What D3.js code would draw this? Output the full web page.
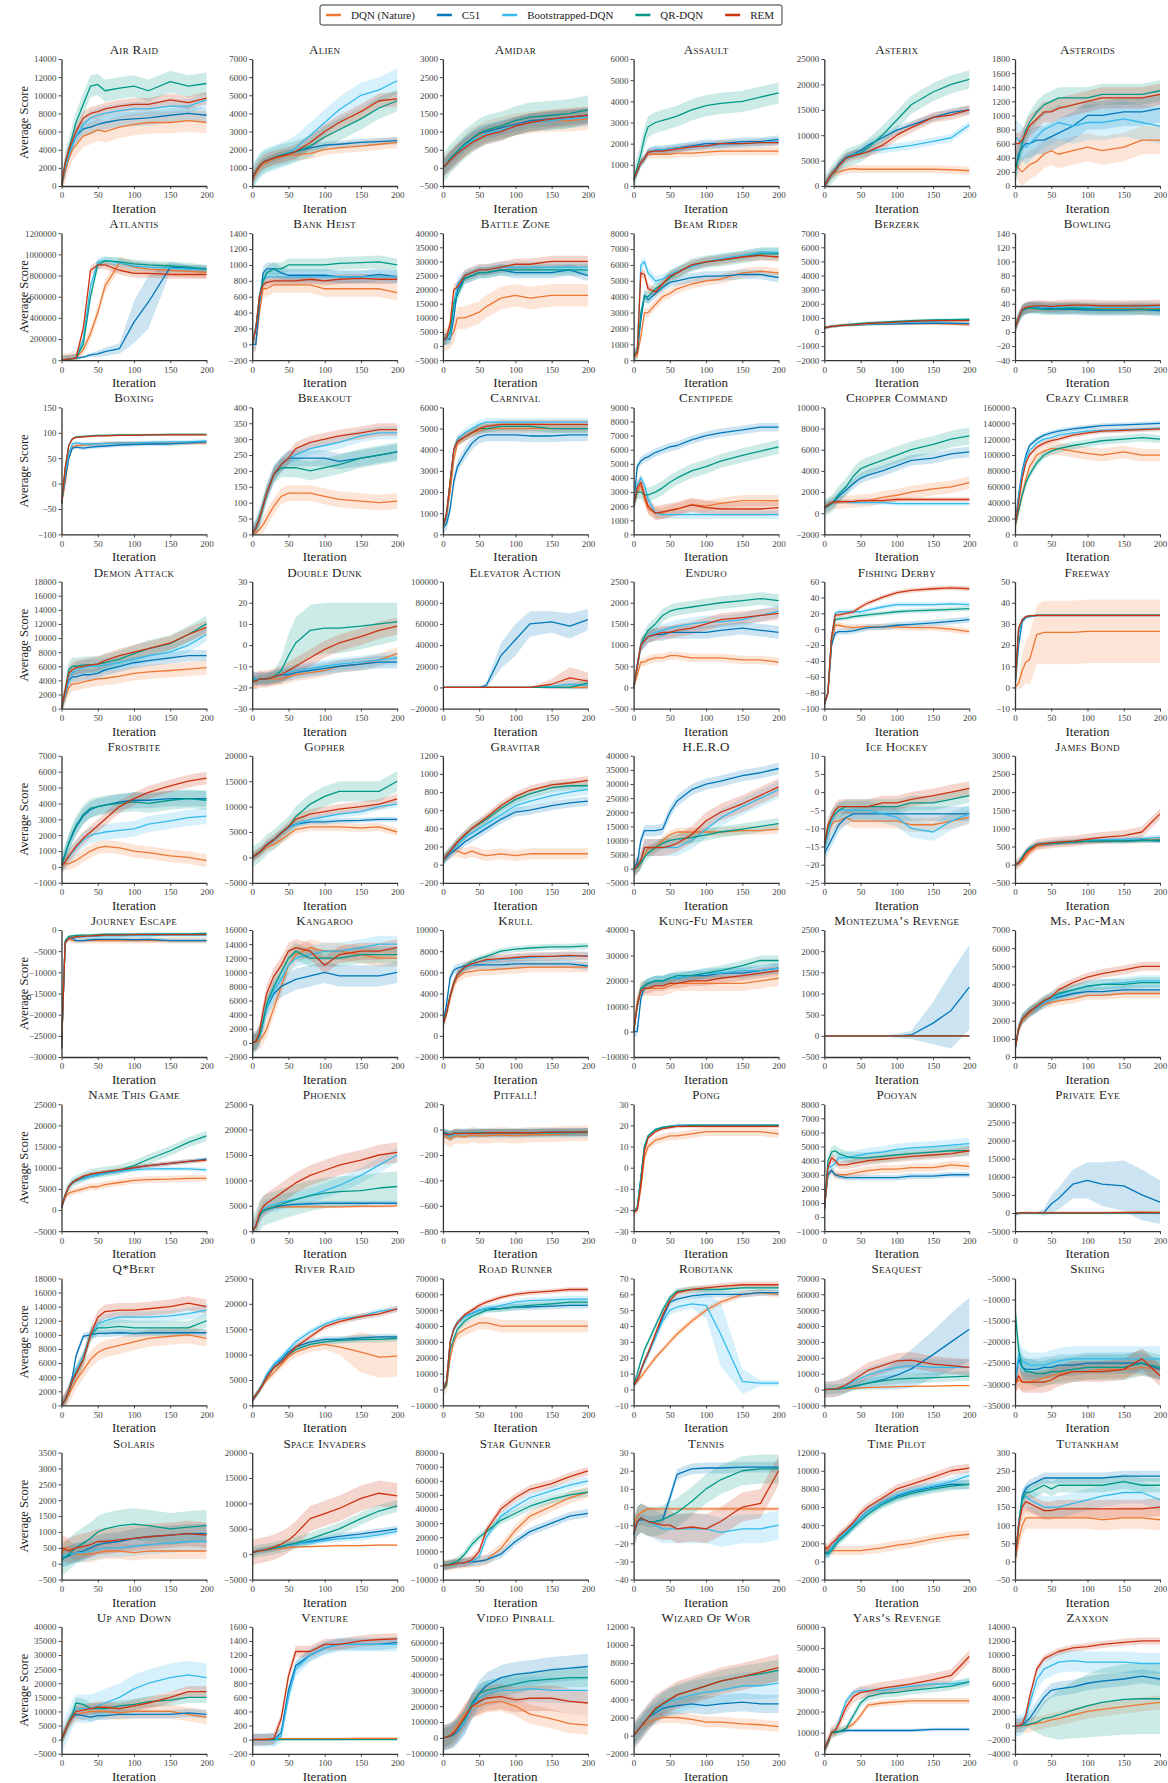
<!DOCTYPE html>
<html><head><meta charset="utf-8">
<script src="https://cdn.jsdelivr.net/npm/d3@7"></script>
<style>
body{margin:0;background:#fff;}
svg text{font-family:"Liberation Serif","DejaVu Serif",serif;}
</style></head><body>
<svg id="chart" width="1168" height="1783"></svg>
<script>
const iterations=[0,5,10,15,20,30,40,50,60,80,100,120,150,175,200];
const xTicks=[0,50,100,150,200];
const seriesNames=["DQN (Nature)","C51","Bootstrapped-DQN","QR-DQN","REM"];
const seriesColors=["#EE7733","#0077BB","#33BBEE","#009988","#CC3311"];
const games=["Air Raid","Alien","Amidar","Assault","Asterix","Asteroids","Atlantis","Bank Heist","Battle Zone","Beam Rider","Berzerk","Bowling","Boxing","Breakout","Carnival","Centipede","Chopper Command","Crazy Climber","Demon Attack","Double Dunk","Elevator Action","Enduro","Fishing Derby","Freeway","Frostbite","Gopher","Gravitar","H.E.R.O","Ice Hockey","James Bond","Journey Escape","Kangaroo","Krull","Kung-Fu Master","Montezuma\u2019s Revenge","Ms. Pac-Man","Name This Game","Phoenix","Pitfall!","Pong","Pooyan","Private Eye","Q*Bert","River Raid","Road Runner","Robotank","Seaquest","Skiing","Solaris","Space Invaders","Star Gunner","Tennis","Time Pilot","Tutankham","Up and Down","Venture","Video Pinball","Wizard Of Wor","Yars\u2019s Revenge","Zaxxon"];
const yDomains=[[0,14000],[0,7000],[-500,3000],[0,6000],[0,25000],[0,1800],
[0,1200000],[-200,1400],[-5000,40000],[0,8000],[-2000,7000],[-40,140],
[-100,150],[0,400],[0,6000],[0,9000],[-2000,10000],[0,160000],
[0,18000],[-30,30],[-20000,100000],[-500,2500],[-100,60],[-10,50],
[-1000,7000],[-5000,20000],[-200,1200],[-5000,40000],[-25,10],[-500,3000],
[-30000,0],[-2000,16000],[-2000,10000],[-10000,40000],[-500,2500],[0,7000],
[-5000,25000],[0,25000],[-800,200],[-30,30],[-1000,8000],[-5000,30000],
[0,18000],[0,25000],[-10000,70000],[-10,70],[-10000,70000],[-35000,-5000],
[-500,3500],[-5000,20000],[-10000,80000],[-40,30],[-2000,12000],[-50,300],
[-5000,40000],[-200,1600],[-100000,700000],[-2000,12000],[0,60000],[-4000,14000]];
const yStep=[2000,1000,500,1000,5000,200,
200000,200,5000,1000,1000,20,
50,50,1000,1000,2000,20000,
2000,10,20000,500,20,10,
1000,5000,200,5000,5,500,
5000,2000,2000,10000,500,1000,
5000,5000,200,10,1000,5000,
2000,5000,10000,10,10000,5000,
500,5000,10000,10,2000,50,
5000,200,100000,2000,10000,2000];
const Z=[0,0,0,0,0,0,0,0,0,0,0,0,0,0,0];
const dqn=[
[0,1500,3000,4000,4500,5500,5800,6200,6000,6500,6800,7000,7000,7200,7000],
[300,700,1000,1200,1300,1500,1600,1700,1700,1800,2000,2100,2200,2300,2400],
[0,100,200,300,400,600,800,900,1000,1100,1200,1250,1300,1300,1350],
[300,700,1100,1300,1500,1500,1500,1500,1550,1550,1600,1650,1650,1650,1650],
[0,1200,2300,2700,2800,3200,3400,3300,3300,3300,3300,3300,3300,3200,3000],
[400,250,200,250,300,350,450,500,450,500,550,500,550,650,650],
[0,5000,10000,15000,20000,100000,250000,450000,700000,920000,880000,860000,850000,840000,830000],
[0,0,400,700,700,750,750,750,750,750,700,700,700,700,650],
[2000,2500,3000,5000,10000,10000,11000,12000,14000,17000,18000,17000,18000,18000,18000],
[200,300,1500,3000,3000,3500,4000,4200,4500,4800,5000,5100,5500,5600,5500],
[300,350,400,420,450,480,500,520,540,560,580,600,600,550,500],
[5,20,30,33,35,35,35,35,34,34,33,33,34,33,33],
[-40,0,50,72,75,76,77,78,79,80,80,80,80,80,80],
[0,5,15,30,50,90,120,130,130,130,120,110,105,100,105],
[300,800,2000,3500,4300,4600,4800,4900,5000,5000,5000,5000,5000,5000,5000],
[2000,3000,3500,2500,1800,1500,1500,1700,1800,2100,2000,2200,2400,2400,2400],
[500,700,900,1000,1000,1100,1100,1200,1200,1500,1700,2000,2300,2500,2900],
[10000,30000,50000,70000,85000,100000,105000,108000,108000,105000,102000,100000,104000,100000,100000],
[0,1500,3000,3500,3500,3800,4000,4200,4300,4600,5000,5200,5400,5600,5800],
[-17,-17,-16,-16,-16,-16,-16,-15,-14,-13,-12,-10,-9,-7,-4],
Z,
[0,300,600,600,650,700,700,750,750,700,700,700,650,650,600],
[-95,-80,-20,5,5,3,2,3,3,3,3,2,2,0,-3],
[0,2,8,12,13,25,26,26,26,26,26.5,26.5,26.5,26.5,26.5],
[100,200,200,300,400,700,1000,1200,1300,1200,1000,900,700,600,400],
[0,500,1000,1500,2000,2500,3500,4500,5500,6000,6000,6000,5800,6000,5000],
[50,100,120,150,150,120,150,120,100,120,100,120,120,120,120],
[0,500,2000,5000,7000,7500,10000,12000,13000,13000,13000,13000,13500,13500,14000],
[-15,-12,-9,-8,-8,-7,-8,-8,-8,-8,-8,-9,-9,-8,-7],
[0,20,100,200,350,500,550,580,600,620,650,650,650,680,700],
[-28000,-3000,-2000,-2500,-2500,-2500,-2500,-2500,-2500,-2500,-2500,-2500,-2500,-2500,-2500],
[0,100,300,1000,2000,5000,8000,11000,12500,13500,13000,13000,12500,12000,12000],
[1000,2000,3500,4800,5500,6000,6100,6200,6200,6300,6400,6500,6500,6500,6500],
[0,12000,17000,17000,17000,17000,17000,18000,19000,19000,19000,19000,19000,20000,21000],
Z,
[400,1500,2000,2200,2400,2700,2900,3000,3100,3200,3400,3400,3500,3500,3500],
[500,3000,4000,4300,4500,5000,5500,5500,6000,6500,7000,7200,7300,7500,7500],
[0,1000,3000,4000,4500,4700,4800,4800,4800,4800,4800,4800,4900,4900,5000],
[-50,-60,-80,-60,-50,-60,-40,-50,-50,-40,-50,-40,-40,-30,-30],
[-21,-20,-10,5,10,13,14,15,15,16,17,17,17,17,16],
[500,3000,3300,3000,3000,3000,3100,3200,3300,3400,3400,3500,3500,3700,3600],
[0,0,100,100,100,100,100,100,100,100,100,100,150,200,200],
[0,700,1500,2500,3500,5000,6500,7500,8000,8500,9000,9500,9800,10000,9500],
[1000,2000,3000,4000,5000,6500,8000,9500,10500,11500,12000,11500,10500,9500,9700],
[0,2000,20000,30000,35000,38000,40000,42000,42000,40000,40000,40000,40000,40000,40000],
[3,5,8,11,14,20,25,30,35,43,50,55,60,61,60],
[0,100,200,300,400,600,800,1000,1200,1500,1800,2000,2200,2400,2500],
[-30000,-29000,-29500,-29500,-29500,-29000,-28500,-28000,-27500,-27000,-27000,-26500,-26500,-26000,-26500],
[300,500,500,400,300,300,300,350,400,400,350,400,400,400,400],
[300,500,600,700,800,1000,1200,1300,1400,1500,1600,1700,1700,1800,1800],
[0,200,500,1000,1500,2000,2500,3000,4000,12000,25000,35000,42000,48000,52000],
[-10,-5,-3,-2,-1,-1,-1,-1,-1,-1,-1,-1,-1,-1,-1],
[1500,1300,1200,1200,1200,1200,1200,1200,1300,1500,1800,2000,2500,2800,3000],
[0,60,100,120,120,120,120,120,120,120,120,115,120,120,115],
[0,3000,6000,8000,9000,9500,10000,10000,10000,9500,10000,10000,10000,9000,8000],
[0,5,10,10,10,15,15,15,15,15,15,15,20,20,20],
[0,5000,20000,50000,80000,150000,200000,200000,220000,230000,200000,150000,120000,90000,80000],
[0,500,1000,1200,1500,1800,2000,2000,2000,1800,1500,1500,1300,1200,1000],
[2000,5000,10000,10000,10500,12000,14000,18000,23000,24000,24500,25000,25000,25000,25000],
[0,0,0,0,100,300,500,800,1000,1500,2000,2300,2700,3000,3300]];
const c51=[
[0,2000,3500,4500,5500,6300,6500,6800,7000,7300,7400,7500,7800,8000,7800],
[400,800,1100,1300,1400,1550,1700,1800,1900,2100,2250,2300,2400,2450,2500],
[0,100,250,350,450,650,800,950,1000,1100,1200,1300,1350,1400,1450],
[300,700,1100,1300,1600,1700,1700,1750,1800,1900,2000,2000,2100,2100,2200],
[0,1200,2300,3200,4300,5700,6300,7000,8000,9500,11000,12000,13500,14500,15000],
[200,450,550,600,600,650,650,700,750,850,1000,1000,1050,1050,1100],
[0,5000,10000,15000,20000,30000,50000,60000,80000,110000,360000,550000,880000,870000,860000],
[0,0,500,900,950,950,900,870,870,870,870,850,850,880,850],
[2000,2500,2500,10000,20000,24000,25000,26000,26000,27000,26000,26000,26000,27000,25000],
[300,500,2500,4100,3800,4200,4600,4900,5000,5200,5300,5300,5400,5400,5200],
[300,350,400,420,450,480,500,520,540,560,580,600,620,620,600],
[5,20,30,33,35,35,34,33,32,32,31,31,31,32,30],
[-40,10,50,70,72,70,72,73,74,76,77,78,78,80,82],
[0,20,50,90,130,190,220,240,240,240,240,230,240,250,260],
[300,500,1200,2500,3200,3800,4300,4600,4700,4700,4700,4650,4650,4700,4700],
[2000,4800,5200,5400,5500,5800,6000,6200,6300,6700,7000,7200,7400,7600,7600],
[500,700,900,1200,1600,2200,2800,3300,3600,4000,4500,5000,5200,5600,5800],
[10000,50000,80000,100000,112000,120000,125000,128000,130000,133000,135000,137000,138000,139000,140000],
[0,2000,4000,4500,4500,4800,4800,5000,5500,6000,6500,6800,7200,7500,7500],
[-15,-16,-16,-16,-16,-15,-14,-14,-13,-12,-11,-10,-9,-8,-8],
[0,0,0,0,0,0,0,0,2000,30000,45000,60000,62000,58000,64000],
[0,500,1000,1100,1200,1250,1250,1300,1300,1300,1300,1350,1400,1350,1300],
[-95,-80,-20,-5,-3,-3,-2,0,2,3,5,6,8,10,12],
[0,20,31,33,33.5,34,34,34,34,34,34,34,34,34,34],
[100,800,1500,2000,2500,3200,3600,3800,3900,4100,4200,4200,4300,4300,4300],
[0,500,1000,1700,2500,3500,4800,6000,6500,7000,7000,7200,7300,7500,7500],
[50,80,120,150,180,250,300,350,400,500,580,600,650,680,700],
[0,2000,10000,13500,13500,13500,14000,20000,24000,28000,30000,31000,33000,34000,35500],
[-17,-15,-13,-11,-9,-7,-6,-6,-6,-6,-6,-6,-6,-6,-6],
[0,50,200,350,450,550,570,580,600,620,650,650,650,680,650],
[-28000,-3000,-2000,-2000,-2500,-2500,-2300,-2200,-2200,-2200,-2300,-2200,-2500,-2500,-2500],
[0,200,1000,3000,5000,7000,8000,8500,9000,9500,10000,9500,9500,9500,10000],
[1000,3000,5500,6200,6400,6600,6700,6700,6700,6700,6800,6800,6800,6800,6600],
[0,0,13000,18000,19000,20000,20000,21000,21000,22000,22000,23000,23000,24000,25000],
[0,0,0,0,0,0,0,0,0,0,0,20,300,600,1150],
[400,1600,2100,2300,2500,2700,3000,3200,3300,3500,3600,3600,3700,3700,3700],
[500,3500,5500,6500,7000,7500,8000,8300,8700,9200,10000,10500,11000,11500,12000],
[0,1000,3000,4000,4300,4700,5000,5200,5300,5400,5500,5500,5500,5500,5500],
[-20,-30,-40,-30,-30,-30,-25,-25,-25,-25,-25,-25,-20,-20,-20],
[-21,-19,-5,10,15,18,19,19.5,20,20,20,20,20,20,20],
[500,3000,3300,3000,2900,2800,2800,2800,2800,2800,2800,2900,2900,3000,3000],
[-500,0,0,0,0,0,200,2500,4000,8000,9000,8000,7500,5000,3000],
[0,800,2000,4000,7000,9800,10000,10200,10200,10300,10200,10300,10300,10300,10300],
[1000,2000,3000,4500,6000,8000,9000,10500,11500,12500,13000,13000,13300,13500,13500],
[0,5000,30000,38000,42000,46000,48000,50000,51000,51000,52000,52000,52500,53000,53000],
[3,6,12,18,23,33,45,55,57,59,60,60,60,61,61],
[0,100,200,300,500,1000,2000,3000,4000,6000,9000,13000,22000,30000,38000],
[-30000,-24000,-26000,-26500,-26500,-26500,-26000,-26000,-25500,-25500,-25000,-25000,-25000,-25000,-26500],
[200,200,250,300,350,400,500,600,650,700,800,850,900,950,950],
[300,500,700,800,900,1200,1500,1800,2000,2500,3000,3500,4000,4500,5000],
[0,200,500,1000,1500,2000,2500,3000,4000,8000,17000,24000,30000,35000,37000],
[-15,-8,-7,-7,-8,-8,-7,5,18,21,21.5,21.5,22,22,22],
[1000,1000,1500,2000,2500,3200,4000,4800,5500,6500,7200,7700,8200,8500,8500],
[0,100,180,200,210,220,230,230,230,230,230,230,235,235,235],
[0,3000,6000,8000,9000,8500,8000,8500,8500,9000,9000,9000,9000,9500,9000],
[0,0,0,0,0,0,100,700,1050,1200,1300,1350,1350,1350,1380],
[0,5000,10000,20000,40000,100000,200000,280000,330000,380000,400000,410000,430000,440000,450000],
[0,500,1000,1500,2000,2500,3000,3200,3300,3500,3300,3500,3700,3500,3500],
[2000,6000,10000,10500,10500,11000,11000,11000,11000,11000,11000,11000,11500,11500,11500],
[0,0,100,500,1000,2500,4000,5000,5200,5500,6000,6300,6600,7000,6600]];
const bootstrapped=[
[0,2000,3500,4500,5500,6800,7500,7800,8000,8300,8500,8500,8800,8800,9500],
[400,800,1100,1300,1400,1550,1700,1850,2100,2800,3500,4200,5000,5300,5800],
[0,100,200,300,400,600,750,850,950,1050,1150,1250,1300,1350,1400],
[300,700,1100,1300,1600,1700,1700,1750,1800,1850,1900,1950,2000,2050,2100],
[0,1200,2300,3000,4000,5500,6200,6500,6800,7200,7600,8000,8800,9500,12000],
[700,650,600,550,600,700,800,850,900,850,900,900,950,900,850],
[0,5000,10000,15000,20000,200000,700000,930000,940000,920000,890000,880000,870000,860000,860000],
[0,200,600,800,850,850,850,850,850,850,850,850,850,850,850],
[2000,2500,3000,15000,22000,25000,26000,27000,27000,28000,28000,28000,28000,28000,28000],
[300,600,6000,6200,5500,5000,5100,5400,5600,5900,6200,6400,6600,6800,6800],
[300,350,400,420,450,480,500,520,550,600,650,700,750,800,850],
[5,20,30,33,35,36,35,35,35,35,35,35,35,36,35],
[-40,20,60,78,80,78,78,78,79,80,80,81,82,82,84],
[0,20,50,90,130,190,220,240,250,270,280,290,310,320,320],
[300,800,2500,4000,4500,4800,5000,5200,5300,5300,5300,5300,5300,5300,5300],
[2000,3500,4000,3500,2500,1500,1400,1400,1400,1400,1400,1400,1400,1400,1400],
[500,800,1000,1100,1100,1100,1000,1000,1000,1000,900,900,900,900,900],
[10000,45000,75000,95000,105000,115000,120000,122000,125000,128000,130000,131000,132000,133000,134000],
[0,2000,4500,5000,5500,5800,6000,6000,6200,6500,7000,7500,8000,9000,10500],
[-15,-16,-16,-16,-16,-15,-14,-13,-12,-11,-10,-9,-8,-7,-6],
[0,0,0,0,0,0,0,0,0,0,0,0,1000,3000,2000],
[0,500,1000,1100,1200,1300,1350,1400,1450,1500,1550,1550,1600,1700,1800],
[-95,-80,-10,20,22,22,22,22,24,28,31,31,31,32,31],
[0,25,32,33,33.5,34,34,34,34,34,34,34,34,34,34],
[100,300,600,900,1200,1700,2000,2100,2200,2300,2400,2700,2900,3100,3200],
[0,500,1000,1700,2500,3500,4800,5800,6500,7500,8000,8500,9000,10000,10500],
[50,90,140,180,220,300,350,400,450,550,650,700,760,800,830],
[0,1000,3000,7500,7500,7500,7500,7500,7500,10000,14000,18000,22000,25000,28000],
[-16,-12,-8,-6,-5,-5,-5,-5,-5,-6,-7,-10,-11,-8,-6],
[0,50,200,350,450,550,580,600,620,650,670,690,700,720,750],
[-28000,-3000,-2000,-1800,-1700,-1600,-1500,-1500,-1400,-1400,-1300,-1300,-1200,-1200,-1200],
[0,200,1000,3000,5000,7500,9000,11000,12000,12500,13000,13000,13500,14000,14000],
[1000,2200,3800,5000,5800,6400,6700,7000,7100,7200,7300,7400,7500,7500,7600],
[0,10000,17000,18000,19000,20000,20000,21000,21000,22000,23000,23000,24000,24000,25000],
Z,
[400,1600,2100,2300,2500,2700,3000,3200,3400,3700,3900,4000,4100,4200,4200],
[500,3500,5500,6500,7000,7500,8000,8300,8700,9200,9500,9700,9800,9700,9500],
[0,1000,3000,4300,4800,5300,5700,6000,6300,7000,8000,9000,11000,13000,15000],
[-30,-40,-50,-40,-30,-30,-30,-30,-30,-30,-30,-25,-25,-25,-25],
[-21,-19,-5,10,15,18,19,19.5,20,20,20,20,20,20,20],
[500,3500,3600,3800,4200,4200,4300,4400,4500,4600,4800,4900,5000,5100,5200],
Z,
[0,800,2000,3500,5000,7000,10000,11500,12000,12500,12500,12500,12700,13000,13500],
[1000,2000,3000,4500,6000,8000,9500,11000,12500,14500,16000,17000,17500,18500,19000],
[0,5000,30000,38000,42000,46000,48000,50000,51000,53000,55000,56000,56500,57000,57000],
[3,6,12,17,22,33,43,50,52,54,53,35,5,4,4],
[0,100,200,300,800,2500,5000,7000,9000,12000,14000,15000,14000,14000,14000],
[-30000,-23000,-24500,-25000,-25500,-25500,-25500,-25000,-24500,-24000,-24000,-24000,-24000,-24000,-24000],
[200,250,300,300,350,350,400,450,500,500,550,600,650,700,700],
[300,500,700,800,900,1200,1500,1800,2000,2300,2700,3000,3300,3800,4500],
[0,200,500,1000,1500,2000,3000,6000,20000,35000,42000,48000,53000,57000,60000],
[-15,-8,-6,-7,-8,-10,-12,-12,-12,-12,-12,-14,-12,-12,-10],
[1000,800,1500,2000,2500,3200,4000,4800,5500,6500,7300,7800,8300,8800,9500],
[0,100,170,180,170,160,150,150,150,160,170,180,190,190,170],
[0,3000,6000,9000,11000,11000,11000,12000,13000,15000,18000,20000,22000,23000,22000],
[0,0,0,0,0,0,50,600,1000,1200,1300,1350,1350,1350,1350],
[0,5000,15000,30000,50000,100000,200000,250000,280000,300000,300000,310000,300000,300000,300000],
[0,500,1000,1500,2000,2800,3300,3800,4000,4500,4800,5000,5500,5500,5800],
[2000,6000,10000,11000,15000,25000,29000,30000,30000,30000,31000,32000,33000,33000,34000],
[0,0,200,1000,3000,6500,8000,8500,9000,9200,9000,9000,9000,8800,8800]];
const qrdqn=[
[0,2500,4000,5500,7000,9000,11000,11200,10500,10800,11000,10500,11500,11000,11300],
[400,800,1100,1300,1400,1550,1700,1800,1900,2200,2700,3100,3700,4300,4700],
[0,100,250,350,450,650,800,950,1050,1150,1300,1400,1450,1500,1600],
[300,900,1500,2300,2800,3000,3100,3200,3300,3600,3800,3900,4000,4200,4400],
[0,1200,2300,3000,4000,5500,6000,6500,7500,10000,13000,16000,18500,20000,21000],
[200,400,600,800,900,1050,1150,1200,1250,1250,1250,1300,1300,1300,1350],
[0,5000,10000,15000,20000,150000,600000,900000,940000,930000,910000,900000,890000,880000,860000],
[0,200,600,800,900,950,950,1000,1000,1000,1000,1020,1030,1040,1000],
[2000,3000,5000,15000,18000,24000,25000,26000,26000,27000,27000,27000,27000,27000,27000],
[300,500,3000,4000,4000,4500,4800,5200,5500,6000,6200,6300,6500,6700,6700],
[300,350,400,420,450,500,550,600,650,700,750,800,850,870,900],
[5,20,30,33,34,33,32,32,33,34,33,32,32,32,32],
[-40,30,75,88,92,93,94,95,95,96,96,96,97,97,97],
[0,20,50,90,130,190,210,210,210,200,210,220,240,250,260],
[300,1000,2500,4000,4400,4600,4800,5000,5000,5100,5100,5100,5000,5000,5000],
[2000,3000,3000,2800,2800,3000,3300,3700,4000,4500,4800,5200,5600,5900,6200],
[500,700,900,1300,1800,2500,3500,4200,4500,5000,5500,6000,6500,7000,7300],
[10000,30000,50000,65000,75000,90000,100000,105000,108000,112000,115000,118000,120000,122000,120000],
[0,2500,5500,6000,6000,6200,6200,6300,6500,7000,7800,8500,9200,10500,12000],
[-16,-17,-16,-16,-16,-15,-12,-5,1,7,8,8,9,10,11],
[0,0,0,0,0,0,0,0,0,0,0,0,0,0,4000],
[0,500,1000,1200,1350,1500,1700,1800,1850,1900,1950,2000,2050,2100,2050],
[-95,-80,-10,12,13,14,16,17,18,20,22,23,24,25,26],
[0,28,32,33.5,33.8,34,34,34,34,34,34,34,34,34,34],
[100,800,1500,2100,2600,3300,3700,3800,3900,4000,4100,4000,4200,4300,4200],
[0,500,1000,1700,2500,3500,4800,6000,8000,10500,12000,13000,13000,13000,15000],
[50,100,150,200,250,320,400,450,500,620,720,780,850,870,870],
[0,500,2000,4000,5500,7500,9000,10000,10500,11000,12000,13000,14000,15000,16000],
[-15,-10,-7,-6,-5,-4,-4,-4,-4,-4,-4,-3,-3,-2,-1],
[0,50,200,350,450,550,570,590,600,620,650,650,650,660,680],
[-28000,-2500,-1500,-1400,-1300,-1200,-1200,-1100,-1000,-1000,-1000,-900,-900,-900,-800],
[0,200,1000,3000,5500,8000,10000,12000,13000,12000,12000,12000,12500,12500,12500],
[1000,2200,3800,5000,5800,6500,7000,7300,7500,8000,8200,8300,8400,8400,8500],
[0,10000,17000,18000,19000,20000,20000,21000,22000,22000,23000,24000,26000,28000,28000],
Z,
[400,1600,2100,2300,2500,2800,3100,3300,3500,3700,3900,4000,4000,4100,4100],
[500,3500,5500,6500,7000,7800,8500,8800,9000,9500,10500,12000,14000,16000,17500],
[0,1000,3000,4000,4300,4800,5300,5800,6200,7000,7500,7800,8000,8500,8800],
[-30,-40,-40,-30,-30,-30,-30,-25,-25,-25,-25,-25,-25,-25,-20],
[-21,-19,-5,10,15,18,19,19.5,19.5,20,20,20,20,20,20],
[500,4000,4600,4700,4500,4300,4200,4200,4200,4300,4400,4500,4600,4700,4700],
Z,
[0,800,2000,3500,4500,6500,10000,11000,11000,11200,11000,11000,11000,11000,12000],
[1000,2000,3000,4200,5500,7500,8500,10000,11000,12000,12500,12800,13000,13000,13200],
[0,3000,25000,32000,38000,43000,46000,48000,50000,51000,52000,53000,54000,55000,55000],
[3,10,18,25,30,40,50,58,62,63,63,63,64,64,64],
[0,100,200,300,500,1000,2000,3000,4000,5500,6500,7000,7500,8000,8500],
[-12000,-22000,-26000,-27000,-27000,-27500,-27500,-27000,-27000,-26500,-26000,-26000,-26000,-25000,-26000],
[100,200,300,400,500,650,800,1000,1100,1200,1250,1200,1100,1150,1200],
[300,500,700,800,900,1200,1500,1900,2200,3000,4000,5000,7000,8500,9500],
[0,500,1000,2000,3000,8000,15000,20000,24000,32000,37000,42000,47000,50000,52000],
[-15,-8,-6,-7,-8,-8,-7,-5,-3,3,10,15,20,21,21],
[1000,800,1200,1800,2300,3000,3800,4500,5200,6300,7000,7500,8000,8300,8500],
[0,100,170,190,190,200,210,200,210,210,210,210,220,210,210],
[0,3000,6000,9000,13000,12500,11000,11000,11000,12000,12500,13500,14000,15000,15000],
Z,
[0,5000,15000,30000,60000,120000,220000,280000,300000,320000,340000,360000,370000,380000,380000],
[0,500,1000,1500,2000,2800,3500,4000,4500,5000,5500,6000,6500,6800,7200],
[2000,5000,10000,10000,10500,12000,18000,24000,27000,28500,29000,30000,31000,32000,34000],
[0,0,0,100,200,500,1000,1200,1500,2200,2800,3300,3700,3800,3800]];
const rem=[
[0,2500,4000,5000,6000,7500,8000,8200,8500,8800,9000,9000,9500,9200,9700],
[400,800,1100,1300,1400,1550,1650,1750,1900,2400,3000,3500,4100,4700,4800],
[0,100,200,300,400,550,700,800,900,1000,1150,1250,1350,1400,1450],
[300,700,1100,1300,1600,1650,1650,1700,1750,1850,1900,2000,2000,2050,2050],
[0,1200,2300,3000,4000,5500,6000,6300,6700,8000,10000,11500,13500,14000,15000],
[600,600,650,750,850,950,1050,1050,1100,1150,1200,1250,1250,1250,1300],
[0,5000,10000,15000,20000,300000,850000,900000,900000,850000,820000,820000,810000,810000,810000],
[0,200,600,750,780,800,800,800,800,820,800,820,830,820,820],
[2000,3000,8000,20000,21000,25000,26000,27000,27000,28000,29000,29000,30000,30000,30000],
[300,500,5500,5400,4500,4300,4800,5300,5500,6000,6200,6300,6500,6600,6500],
[300,350,400,420,450,480,500,550,600,650,700,750,800,800,800],
[5,20,32,35,36,37,37,36,37,38,38,37,37,37,38],
[-40,30,75,88,91,92,93,94,94,95,95,96,96,96,96],
[0,20,50,90,130,190,220,240,270,290,300,310,320,330,330],
[300,1000,2500,4000,4400,4600,4800,5000,5100,5200,5200,5200,5200,5200,5200],
[2000,3300,3700,2800,2000,1500,1600,1700,1800,2100,1900,1800,1800,1800,1900],
[500,800,1000,1100,1100,1100,1100,1200,1200,1200,1300,1300,1300,1300,1300],
[10000,40000,70000,90000,100000,110000,115000,118000,120000,125000,128000,130000,131000,132000,133000],
[0,2500,5000,5500,5800,6000,6200,6300,6800,7500,8000,8500,9300,10500,11500],
[-17,-17,-16,-16,-16,-15,-14,-12,-10,-6,-2,1,4,7,9],
[0,0,0,0,0,0,0,0,0,0,0,0,3000,9000,6000],
[0,500,1000,1100,1200,1250,1300,1300,1350,1400,1500,1600,1650,1700,1750],
[-95,-80,-10,18,18,20,22,28,33,40,46,49,51,52,51],
[0,28,32,33.5,33.8,34,34,34,34,34,34,34,34,34,34],
[100,300,700,1000,1300,1800,2200,2600,3000,3800,4300,4700,5100,5400,5600],
[0,500,1000,1700,2500,3500,4800,6000,7500,8500,9000,9500,10000,10500,11500],
[50,100,150,200,250,330,400,460,520,650,750,820,880,900,930],
[0,1000,3000,7500,7500,7500,7500,8000,9000,12000,17000,20000,23000,26000,29000],
[-15,-9,-7,-5,-4,-4,-4,-4,-4,-3,-3,-2,-1,0,1],
[0,50,150,300,400,550,580,600,620,650,700,750,800,900,1400],
[-28000,-3000,-2000,-1800,-1600,-1500,-1400,-1300,-1200,-1200,-1100,-1100,-1100,-1100,-1100],
[0,200,1500,4500,7000,9500,11000,13000,13500,13000,11000,12500,13000,13000,13500],
[1000,2200,3800,5000,5800,6500,6800,7000,7200,7300,7400,7500,7500,7600,7500],
[0,10000,16000,17000,17000,18000,18000,19000,19000,20000,20000,21000,22000,23000,24000],
Z,
[400,1600,2100,2300,2500,2800,3100,3300,3700,4100,4400,4600,4800,5000,5000],
[500,3500,5500,6500,7000,8000,8500,8800,9000,9500,10000,10500,11000,11500,11800],
[0,1000,3500,4800,5500,6500,7500,8500,9500,11000,12000,13000,14000,15000,15500],
[-30,-40,-40,-30,-30,-30,-30,-30,-25,-25,-25,-25,-20,-20,-20],
[-21,-20,-8,8,14,17,18.5,19,19.5,19.5,19.5,19.5,19.5,19.5,19.5],
[500,3500,4200,4000,3700,3700,3800,3900,4000,4100,4200,4300,4400,4500,4700],
[0,0,50,50,50,50,50,50,50,50,50,50,100,150,100],
[0,800,2000,3500,4500,6500,10000,12500,13300,13500,13500,13700,14000,14500,14000],
[1000,2000,3000,4200,5500,7500,8500,10000,11500,13500,15500,16500,17500,18000,19000],
[0,5000,30000,38000,42000,47000,50000,53000,55000,58000,60000,61000,62000,63000,63000],
[3,6,12,18,23,35,47,56,61,63,64,65,66,66,66],
[0,100,200,400,1000,3000,6000,9000,12000,15000,18000,18500,16000,15000,14000],
[-30000,-28000,-29500,-29500,-29500,-29500,-29500,-29000,-28000,-27000,-27000,-27000,-26500,-24000,-28000],
[500,450,400,450,500,550,600,700,700,750,800,850,900,950,900],
[300,500,700,800,1000,1400,2000,2800,4000,7000,8000,9000,11000,12000,11500],
[0,200,500,1000,1500,2000,4000,10000,25000,40000,48000,54000,58000,63000,67000],
[-15,-8,-6,-7,-8,-9,-10,-10,-12,-11,-12,-8,0,2,20],
[1500,1500,2000,2300,2800,3500,4300,5300,6000,7000,8000,8500,9300,10000,10300],
[0,100,150,165,160,150,140,140,145,145,145,145,145,145,150],
[0,3000,6000,8000,10000,10500,11000,11500,11500,11000,12000,13000,15000,17000,17000],
[0,0,0,0,0,20,300,900,1250,1250,1350,1350,1400,1420,1430],
[0,5000,15000,30000,60000,130000,200000,230000,250000,260000,240000,250000,250000,230000,220000],
[0,500,1000,1500,2000,3000,3500,4000,4500,5000,5500,6000,6500,7000,7500],
[2000,6000,10000,11000,14000,22000,27000,29000,29500,31000,32000,33000,35000,37000,46000],
[0,0,200,1500,4000,8000,9500,10000,10500,11000,11200,11500,11800,12000,12000]];
// half-width of the shaded run spread, per game: [DQN, C51, Bootstrapped, QR, REM]
const spreads=[
[1200,800,800,1200,700],[300,200,700,600,400],[300,200,250,400,250],[200,200,200,500,150],[800,800,800,1800,1000],[200,200,250,150,150],
[60000,[0,2000,4000,6000,8000,10000,20000,30000,40000,50000,200000,250000,50000,30000,30000],40000,40000,40000],
[100,80,80,80,60],[4000,2000,2000,2000,2000],[300,300,300,400,300],[100,80,100,100,100],[8,8,8,8,8],
[4,4,4,2,2],[25,25,20,30,20],[200,300,200,200,200],[400,300,300,500,500],[600,500,200,800,200],[8000,3000,3000,5000,3000],
[1000,800,1000,1200,1000],
[3,3,3,[2,2,2,2,2,3,6,10,12,12,12,12,11,10,9],4],
[300,[0,0,0,0,0,0,0,0,3000,12000,15000,12000,10000,12000,10000],[0,0,0,0,0,0,0,0,0,0,0,0,2000,4000,3000],[0,0,0,0,0,0,0,0,0,0,0,0,0,2000,5000],[0,0,0,0,0,0,0,0,0,0,0,0,5000,10000,8000]],
[100,150,150,150,150],[4,4,3,3,3],
[[0,3,8,10,12,14,15,15,15,15,15,15,15,15,15],0.5,0.5,0.5,0.5],
[400,500,500,600,400],[800,500,700,2000,1000],[60,50,60,50,50],[1500,2000,3000,2000,3000],[2,2,2.5,2,2],[80,60,80,60,150],
[700,500,400,300,300],[1200,1500,1200,1200,1200],[500,400,400,300,400],[3000,2000,2000,2000,2000],
[5,[0,0,0,0,0,0,0,0,0,0,50,100,500,900,1000],5,5,5],[250,250,300,300,250],
[800,500,500,1200,500],[300,500,1500,3000,2000],[60,30,40,30,30],[2,0.5,0.5,0.5,0.8],[300,200,400,400,300],
[300,[300,300,300,300,300,300,1000,2500,3000,4000,5000,6000,7000,7000,6000],300,300,300],
[1200,500,800,1000,1000],
[[500,500,500,500,500,800,800,1000,1000,1000,1000,1500,4000,4000,4000],600,600,600,600],
[4000,2000,2000,2000,1500],
[2,2,[2,2,2,2,2,3,3,3,3,3,8,20,8,2,2],2,2],
[300,[0,0,0,0,0,1000,2000,3000,4000,6000,9000,12000,15000,18000,20000],5000,3000,5000],
[2000,2500,3000,3000,2500],
[250,300,300,500,400],[200,600,600,1200,2500],[4000,3000,3000,3000,3000],[1,3,8,8,8],[500,500,500,500,500],[30,15,30,20,25],
[2500,1500,5000,2000,2000],[15,80,100,3,80],[60000,80000,80000,60000,80000],[600,1000,1500,1200,1500],[1500,800,1500,2000,3000],
[1000,1000,1500,[0,0,0,300,500,1500,2500,3000,3500,4000,4500,4800,5000,5000,5000],500]];

const allSeries=[dqn,c51,bootstrapped,qrdqn,rem];
const svg=d3.select("#chart");
const W=145,H=127,colStep=190.7,rowStep=174.2,left0=61.5,top0=59;
const axisColor="#333", tickText="#444";
const fmt=d3.format("d");

games.forEach((name,gi)=>{
  const col=gi%6,row=Math.floor(gi/6);
  const g=svg.append("g").attr("transform",`translate(${left0+col*colStep},${top0+row*rowStep})`);
  const x=d3.scaleLinear().domain([0,200]).range([0,W]);
  const dom=yDomains[gi];
  const y=d3.scaleLinear().domain(dom).range([H,0]);
  const cid="clip"+gi;
  g.append("clipPath").attr("id",cid).append("rect").attr("x",0).attr("y",-1).attr("width",W+1).attr("height",H+1);
  const plot=g.append("g").attr("clip-path",`url(#${cid})`);
  const pointsFor=(si)=>{
    const vals=allSeries[si][gi], sp=spreads[gi][si];
    return iterations.map((it,i)=>({it,v:vals[i],s:Array.isArray(sp)?sp[i]:sp}));
  };
  allSeries.forEach((_,si)=>{
    const pts=pointsFor(si);
    plot.append("path").datum(pts)
      .attr("d",d3.area().x(d=>x(d.it)).y0(d=>y(d.v-d.s)).y1(d=>y(d.v+d.s)))
      .attr("fill",seriesColors[si]).attr("fill-opacity",0.2).attr("stroke","none");
  });
  allSeries.forEach((_,si)=>{
    const pts=pointsFor(si);
    plot.append("path").datum(pts)
      .attr("d",d3.line().x(d=>x(d.it)).y(d=>y(d.v)))
      .attr("fill","none").attr("stroke",seriesColors[si]).attr("stroke-width",1.3)
      .attr("stroke-linejoin","round");
  });
  const yt=d3.range(dom[0],dom[1]+yStep[gi]/2,yStep[gi]);
  const ya=g.append("g").call(d3.axisLeft(y).tickValues(yt).tickFormat(fmt).tickSizeInner(3).tickSizeOuter(0).tickPadding(2));
  const xa=g.append("g").attr("transform",`translate(0,${H})`).call(d3.axisBottom(x).tickValues(xTicks).tickFormat(fmt).tickSizeInner(3).tickSizeOuter(0).tickPadding(3));
  [ya,xa].forEach(a=>{
    a.select(".domain").attr("stroke",axisColor).attr("stroke-width",1.3);
    a.selectAll(".tick line").attr("stroke",axisColor).attr("stroke-width",0.9);
    a.selectAll(".tick text").attr("fill",tickText).style("font-size","9px").style("font-family",'"Liberation Serif",serif');
  });
  g.append("text").attr("x",W/2).attr("y",-5).attr("text-anchor","middle")
    .style("font-size","13px").style("font-variant","small-caps").style("letter-spacing","0.3px")
    .attr("fill","#222").text(name);
  g.append("text").attr("x",W/2).attr("y",H+27).attr("text-anchor","middle")
    .style("font-size","13px").attr("fill","#222").text("Iteration");
  if(col===0){
    g.append("text").attr("transform",`translate(-34,${H/2}) rotate(-90)`).attr("text-anchor","middle")
      .style("font-size","12.5px").attr("fill","#222").text("Average Score");
  }
});

// legend
const leg=svg.append("g");
const box=leg.append("rect").attr("y",5).attr("height",20).attr("rx",2).attr("fill","#fff").attr("stroke","#333").attr("stroke-width",1);
let cx=0;
const items=[];
seriesNames.forEach((n,i)=>{
  const it=leg.append("g");
  it.append("line").attr("x1",cx+6).attr("x2",cx+21).attr("y1",15).attr("y2",15).attr("stroke",seriesColors[i]).attr("stroke-width",2.5);
  const t=it.append("text").attr("x",cx+31).attr("y",19).style("font-size","11px").attr("fill","#222").text(n);
  const w=t.node().getComputedTextLength();
  cx+=31+w+(i<seriesNames.length-1?16:8);
});
const total=cx;
const lx=551-total/2;
box.attr("x",lx).attr("width",total);
leg.selectAll("g").attr("transform",`translate(${lx},0)`);
</script>
</body></html>
